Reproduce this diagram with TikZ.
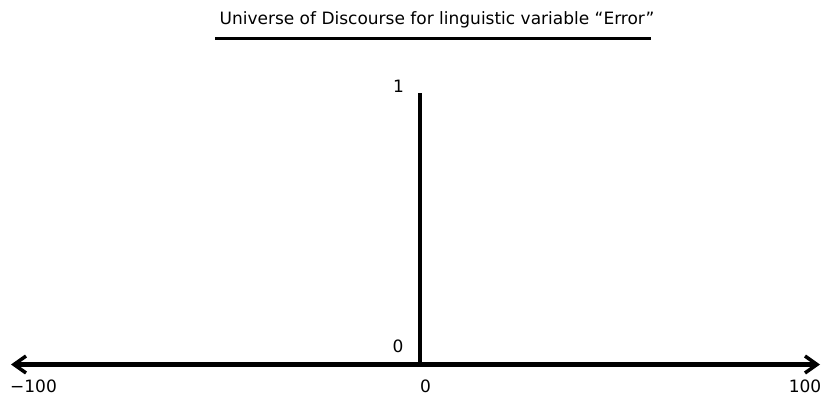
\documentclass[tikz,border=0pt]{standalone}
\usepackage{fontspec}
\setmainfont{DejaVu Sans}
\usepackage{tikz}
\usetikzlibrary{arrows.meta,positioning}

\begin{document}
\begin{tikzpicture}[
  x=1pt,y=-1pt,
  font=\fontsize{17}{20}\selectfont,
  >={Straight Barb[length=12pt,width=17pt,line width=3.5pt]},
  axis/.style={line width=4.6pt},
  lbl/.style={inner sep=0pt},
]
\useasboundingbox (0,0) rectangle (821,396);
% title and its rule
\node[lbl,anchor=base] (title) at (437,24.5) {Universe of Discourse for linguistic variable “Error”};
\coordinate (ruleL) at (215,38.5);
\coordinate (ruleR) at (651,38.5);
\draw[line width=3.5pt] (ruleL) -- (ruleR);
% horizontal axis
\coordinate (left) at (11,364.5);
\coordinate (right) at (820,364.5);
\draw[axis,<->] (left) -- (right);
% membership spike
\coordinate (base) at (420,364.5);
\coordinate (top) at (420,93);
\draw[axis] (base) -- (top);
% labels
\node[lbl] (one) at (398.5,86.5) {1};
\node[lbl] (zero) at (398,346) {0};
\node[lbl] (xmin) at (33.5,386.5) {\char"2212 100};
\node[lbl] (xmid) at (425.5,386.5) {0};
\node[lbl] (xmax) at (805,386) {100};
\end{tikzpicture}
\end{document}
